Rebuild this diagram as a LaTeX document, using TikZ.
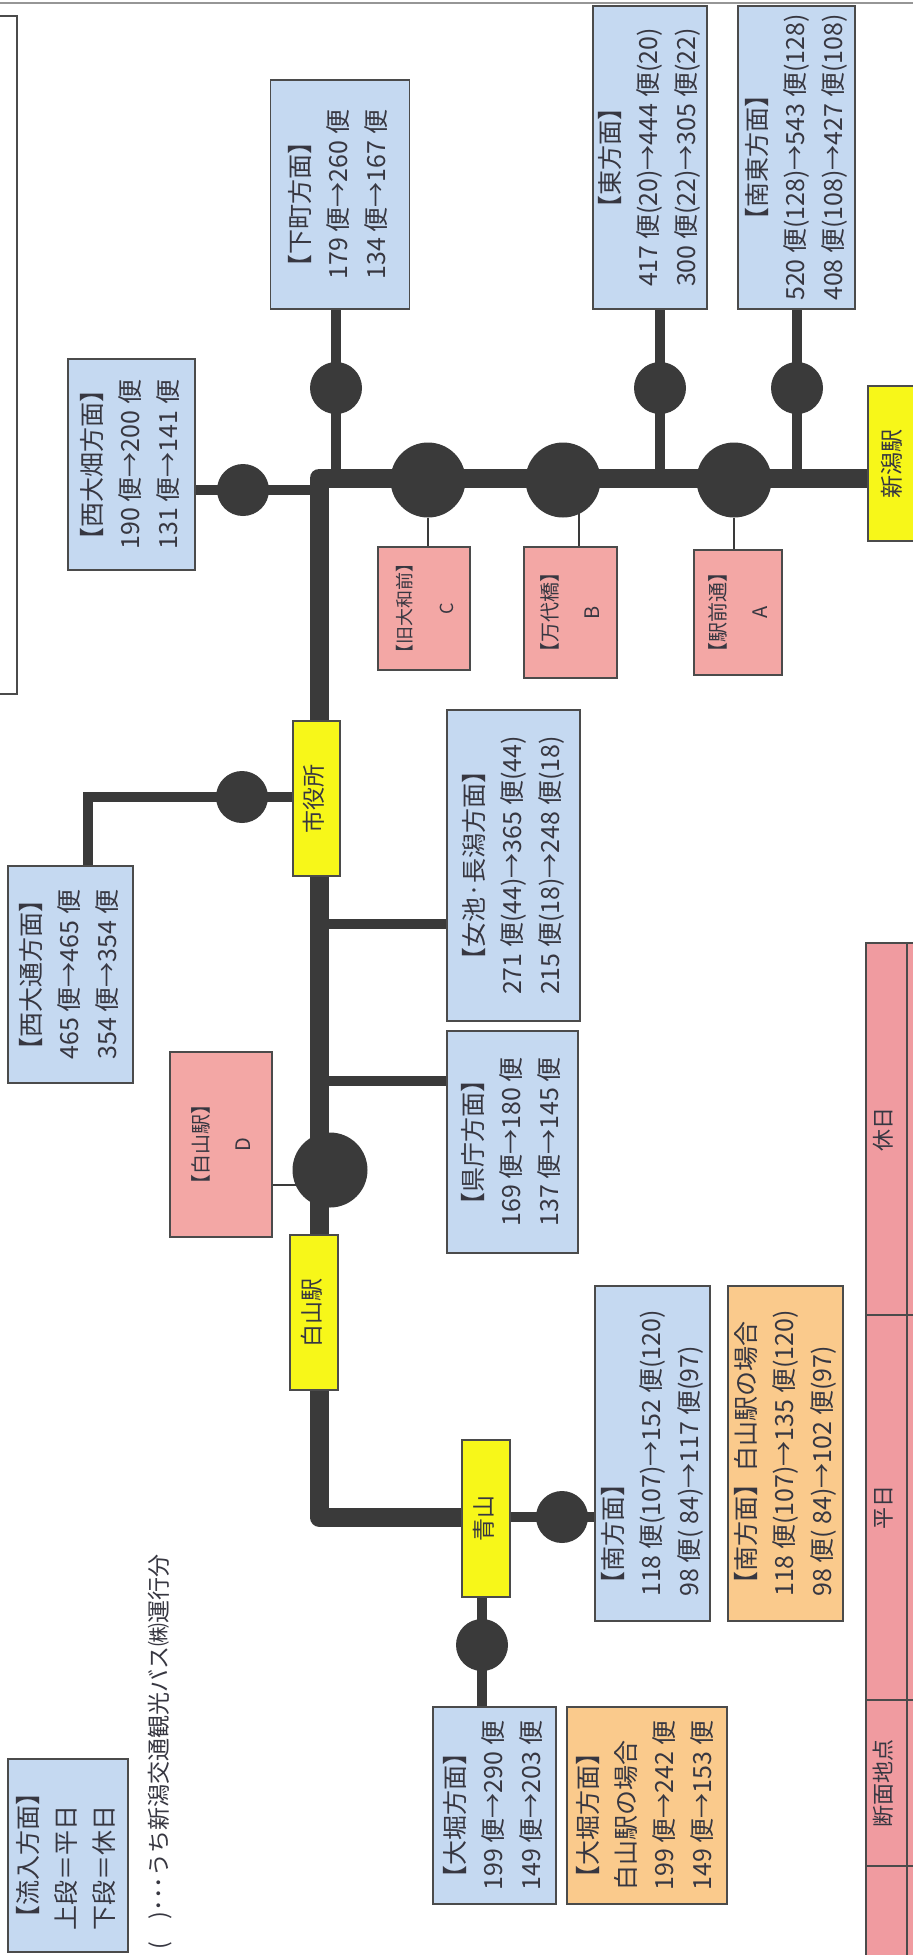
\documentclass[tikz,border=0pt]{standalone}
\usepackage{fontspec}
\setmainfont{Noto Sans CJK JP}
\usepackage{graphicx}
\definecolor{bluefill}{RGB}{197,217,241}
\definecolor{pinkfill}{RGB}{243,167,165}
\definecolor{tablefill}{RGB}{240,155,160}
\definecolor{orangefill}{RGB}{250,202,140}
\definecolor{yellowfill}{RGB}{247,247,25}
\definecolor{edge}{RGB}{75,75,75}
\definecolor{roadc}{RGB}{58,58,58}
\definecolor{ink}{RGB}{55,55,65}
\definecolor{frame}{RGB}{150,150,150}
\newcommand{\vt}[2][c]{\rotatebox{90}{\begin{tabular}{@{}#1@{}}#2\end{tabular}}}
\pgfdeclarelayer{paper}
\pgfdeclarelayer{bg}
\pgfsetlayers{paper,bg,main}
\begin{document}
\begin{tikzpicture}[x=1pt,y=-1pt,
 box/.style={draw=edge, line width=1.5pt, inner sep=0pt, text=ink, font=\fontsize{25}{38}\selectfont},
 bluebox/.style={box, fill=bluefill},
 pinkbox/.style={box, fill=pinkfill, font=\fontsize{20}{42}\selectfont},
 orangebox/.style={box, fill=orangefill},
 yellowbox/.style={box, fill=yellowfill, font=\fontsize{23}{30}\selectfont},
 tablecell/.style={box, fill=tablefill, font=\fontsize{22}{26}\selectfont},
 bigdot/.style={circle, fill=roadc, minimum size=75pt, inner sep=0pt},
 smalldot/.style={circle, fill=roadc, minimum size=52pt, inner sep=0pt},
 road/.style={draw=roadc, line width=19pt, line join=round},
 branch/.style={draw=roadc, line width=10pt},
 thinline/.style={draw=roadc, line width=2.5pt},
 sz/.style 2 args={minimum width=#1pt, minimum height=#2pt},
]
\useasboundingbox (0,0) rectangle (913,1955);
\begin{pgfonlayer}{paper}
\fill[white] (0,0) rectangle (913,1955);
\draw[frame, line width=2pt] (0,3) -- (913,3);
\draw[edge, line width=2pt] (-3,16) -- (17,16) -- (17,694) -- (-3,694);
\end{pgfonlayer}

% boxes
\node[bluebox, sz={139}{229}] (shimo) at (340,194.5) {\vt[l]{【下町方面】\\179 便→260 便\\134 便→167 便}};
\node[bluebox, sz={127}{211}] (nishiohata) at (131.5,464.5) {\vt{【西大畑方面】\\190 便→200 便\\131 便→141 便}};
\node[bluebox, sz={114}{303}] (higashi) at (650,157.5) {\vt{【東方面】\\417 便(20)→444 便(20)\\300 便(22)→305 便(22)}};
\node[bluebox, sz={117}{303}] (nantou) at (796.5,157.5) {\vt{【南東方面】\\520 便(128)→543 便(128)\\408 便(108)→427 便(108)}};
\node[yellowbox, sz={52}{155}] (niigata) at (894,463.5) {\vt{新潟駅}};
\node[pinkbox, sz={92}{123}, font=\fontsize{18}{42}\selectfont] (kyuyamato) at (424,608.5) {\vt{【旧大和前】\\C}};
\node[pinkbox, sz={93}{131}] (bandai) at (570.5,612.5) {\vt{【万代橋】\\B}};
\node[pinkbox, sz={88}{125}] (ekimae) at (738,612.5) {\vt{【駅前通】\\A}};
\node[yellowbox, sz={47}{155}] (shiyakusho) at (316.5,798.5) {\vt{市役所}};
\node[bluebox, sz={125}{217}] (nishiodori) at (70.5,974.5) {\vt{【西大通方面】\\465 便→465 便\\354 便→354 便}};
\node[pinkbox, sz={102}{185}] (hakusanD) at (221,1144.5) {\vt{【白山駅】\\D}};
\node[bluebox, sz={133}{311}] (onna) at (513.5,865.5) {\vt{【女池·長潟方面】\\271 便(44)→365 便(44)\\215 便(18)→248 便(18)}};
\node[bluebox, sz={131}{222}] (kencho) at (512.5,1142) {\vt{【県庁方面】\\169 便→180 便\\137 便→145 便}};
\node[yellowbox, sz={48}{155}] (hakusan) at (314,1312.5) {\vt{白山駅}};
\node[yellowbox, sz={48}{157}] (aoyama) at (486,1518.5) {\vt{青山}};
\node[bluebox, sz={115}{335}] (minami) at (652.5,1453.5) {\vt[l]{【南方面】\\118 便(107)→152 便(120)\\98 便( 84)→117 便(97)}};
\node[orangebox, sz={115}{335}] (minamiH) at (785.5,1453.5) {\vt[l]{【南方面】白山駅の場合\\118 便(107)→135 便(120)\\98 便( 84)→102 便(97)}};
\node[bluebox, sz={123}{197}] (ohori) at (494.5,1805.5) {\vt[l]{【大堀方面】\\199 便→290 便\\149 便→203 便}};
\node[orangebox, sz={160}{197}] (ohoriH) at (647,1805.5) {\vt[l]{【大堀方面】\\白山駅の場合\\199 便→242 便\\149 便→153 便}};
\node[bluebox, sz={120}{193}] (legend) at (68,1855.5) {\vt[l]{【流入方面】\\上段＝平日\\下段＝休日}};
\node[rotate=90, anchor=west, inner sep=0pt, text=ink, font=\fontsize{23}{28}\selectfont] (note) at (160,1950) {(　)･･･うち新潟交通観光バス㈱運行分};

% table
\node[tablecell, sz={41}{372}] (tKyu) at (886.5,1129) {\vt{休日}};
\node[tablecell, sz={41}{385}] (tHei) at (886.5,1507.5) {\vt{平日}};
\node[tablecell, sz={41}{166}] (tDan) at (886.5,1783) {\vt{断面地点}};
\node[tablecell, sz={41}{100}] (tBot) at (886.5,1916) {};
\node[tablecell, sz={30}{372}] (rKyu) at (922,1129) {};
\node[tablecell, sz={30}{385}] (rHei) at (922,1507.5) {};
\node[tablecell, sz={30}{166}] (rDan) at (922,1783) {};
\node[tablecell, sz={30}{100}] (rBot) at (922,1916) {};

% junctions
\coordinate (corner1) at (319,478);
\coordinate (corner2) at (319,1517);
\coordinate (woCorner) at (88,797);
\coordinate (jOnna) at (319,924);
\coordinate (jKen) at (319,1081);
\coordinate (lB) at (579,480);
\coordinate (lD) at (300,1185);

% dots
\node[smalldot] (dS) at (336,388) {};
\node[smalldot] (dE) at (660,388) {};
\node[smalldot] (dSE) at (797,388) {};
\node[smalldot] (dW) at (243,490) {};
\node[smalldot] (dWO) at (242,797) {};
\node[bigdot] (dC) at (428,480) {};
\node[bigdot] (dB) at (563,480) {};
\node[bigdot] (dA) at (734,480) {};
\node[bigdot] (dD) at (330,1170) {};
\node[smalldot] (dMinami) at (562,1517) {};
\node[smalldot] (dOhori) at (482,1645) {};

\begin{pgfonlayer}{bg}
\draw[road] (niigata.west |- corner1) -- (corner1) -- (corner2) -- (aoyama.west |- corner2);
\draw[branch] (shimo.south -| dS) -- (dS |- corner1);
\draw[branch] (higashi.south -| dE) -- (dE |- corner1);
\draw[branch] (nantou.south -| dSE) -- (dSE |- corner1);
\draw[branch] (nishiohata.east |- dW) -- (dW -| corner1);
\draw[branch] (shiyakusho.west |- dWO) -- (woCorner) -- (woCorner |- nishiodori.north);
\draw[branch] (jOnna) -- (jOnna -| onna.west);
\draw[branch] (jKen) -- (jKen -| kencho.west);
\draw[branch] (aoyama.east |- dMinami) -- (dMinami -| minami.west);
\draw[branch] (aoyama.south -| dOhori) -- (dOhori |- ohori.north);
\draw[thinline] (dC) -- (dC |- kyuyamato.north);
\draw[thinline] (lB) -- (lB |- bandai.north);
\draw[thinline] (dA) -- (dA |- ekimae.north);
\draw[thinline] (lD -| hakusanD.east) -- (lD);
\end{pgfonlayer}
\end{tikzpicture}
\end{document}
